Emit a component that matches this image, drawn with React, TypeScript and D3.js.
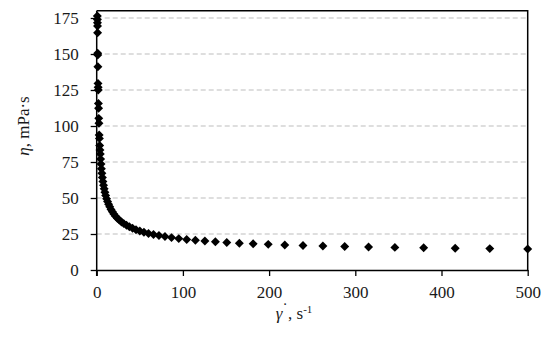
import * as d3 from "d3";
import { useEffect, useRef } from "react";

// shear rate, s-1 (log-spaced measurement points)
const shearRate = [
  0.72, 0.79, 0.87, 0.95, 1.04, 1.15, 1.26, 1.38, 1.51, 1.66, 1.82, 1.99,
  2.18, 2.39, 2.62, 2.88, 3.15, 3.46, 3.79, 4.16, 4.56, 5.0, 5.48, 6.01,
  6.59, 7.22, 7.92, 8.68, 9.52, 10.4, 11.5, 12.6, 13.8, 15.1, 16.6, 18.2,
  19.9, 21.8, 23.9, 26.2, 28.8, 31.5, 34.6, 37.9, 41.6, 45.6, 50.0, 54.8,
  60.1, 65.9, 72.2, 79.2, 86.8, 95.2, 104.4, 114.5, 125.5, 137.7, 150.9,
  165.5, 181.5, 199.0, 218.2, 239.3, 262.4, 287.7, 315.4, 345.9, 379.3,
  415.9, 456.0, 500.0,
];

// viscosity, mPa·s
const viscosity = [
  176.4, 174.0, 171.7, 169.4, 164.8, 150.5, 149.3, 141.2, 129.6, 126.9,
  125.0, 115.7, 112.3, 105.3, 101.9, 93.8, 91.4, 86.5, 83.3, 80.6, 77.0,
  73.6, 70.3, 67.2, 64.3, 61.5, 58.9, 56.4, 54.0, 51.8, 49.5, 47.5, 45.6,
  43.9, 42.1, 40.4, 38.9, 37.4, 36.0, 34.7, 33.4, 32.2, 31.1, 30.0, 29.0,
  28.0, 27.1, 26.2, 25.4, 24.6, 23.9, 23.2, 22.5, 21.8, 21.2, 20.7, 20.1,
  19.6, 19.1, 18.6, 18.2, 17.8, 17.4, 17.0, 16.6, 16.3, 16.0, 15.7, 15.4,
  15.1, 14.85, 14.6,
];

const xTicks = [0, 100, 200, 300, 400, 500];
const yTicks = [0, 25, 50, 75, 100, 125, 150, 175];

const W = 550;
const H = 342;
const FONT = "'Liberation Serif', 'DejaVu Serif', serif";
const FS = "17px";

export default function App() {
  const ref = useRef<SVGSVGElement>(null);

  useEffect(() => {
    if (!ref.current) return;
    const svg = d3.select(ref.current);
    svg.selectAll("*").remove();

    const left = 96.7;
    const right = 527.7;
    const top = 10.8;
    const bottom = 270;

    const x = d3.scaleLinear().domain([0, 500]).range([left, right]);
    const y = d3.scaleLinear().domain([0, 180]).range([bottom, top]);

    // gridlines
    svg
      .append("g")
      .selectAll("line")
      .data(yTicks.filter((t) => t > 0))
      .enter()
      .append("line")
      .attr("x1", left)
      .attr("x2", right)
      .attr("y1", (d) => y(d))
      .attr("y2", (d) => y(d))
      .attr("stroke", "#bdbdbd")
      .attr("stroke-width", 1)
      .attr("stroke-dasharray", "5,3");

    // frame top / right
    svg
      .append("path")
      .attr("d", `M${left},${top}H${right}V${bottom}`)
      .attr("fill", "none")
      .attr("stroke", "#000")
      .attr("stroke-width", 1.5);

    const xAxis = svg
      .append("g")
      .attr("transform", `translate(0,${bottom})`)
      .call(
        d3.axisBottom(x).tickValues(xTicks).tickSize(6).tickPadding(10).tickSizeOuter(0)
      );
    const yAxis = svg
      .append("g")
      .attr("transform", `translate(${left},0)`)
      .call(
        d3.axisLeft(y).tickValues(yTicks).tickSize(6).tickPadding(12).tickSizeOuter(0)
      );
    yAxis.select(".domain").attr("d", `M0,${top}V${bottom + 6}`);

    [xAxis, yAxis].forEach((a) => {
      a.select(".domain").attr("stroke", "#000").attr("stroke-width", 1.5);
      a.selectAll(".tick line").attr("stroke", "#000").attr("stroke-width", 1.3);
      a.selectAll(".tick text")
        .attr("fill", "#1a1a1a")
        .style("font-family", FONT)
        .style("font-size", FS);
    });

    // markers
    const diamond = d3.symbol().type(d3.symbolSquare).size(40);
    svg
      .append("g")
      .selectAll("path")
      .data(shearRate.map((s, i) => ({ s, v: viscosity[i] })))
      .enter()
      .append("path")
      .attr("d", diamond)
      .attr("transform", (d) => `translate(${x(d.s)},${y(d.v)}) rotate(45)`)
      .attr("fill", "#000");

    // y title
    const yt = svg
      .append("text")
      .attr("transform", "translate(29,126) rotate(-90)")
      .attr("text-anchor", "middle")
      .style("font-family", FONT)
      .style("font-size", FS)
      .attr("fill", "#1a1a1a");
    yt.append("tspan").style("font-style", "italic").text("η");
    yt.append("tspan").text(", mPa·s");

    // x title
    const xt = svg
      .append("text")
      .attr("x", 294)
      .attr("y", 319)
      .attr("text-anchor", "middle")
      .style("font-family", FONT)
      .style("font-size", FS)
      .attr("fill", "#1a1a1a");
    xt.append("tspan").style("font-style", "italic").text("γ");
    xt.append("tspan").attr("dy", -5).text("˙");
    xt.append("tspan").attr("dy", 5).text(", s");
    xt.append("tspan").attr("dy", -6).style("font-size", "11px").text("-1");
  }, []);

  return (
    <svg
      ref={ref}
      width={W}
      height={H}
      style={{ position: "absolute", left: 0, top: 0, background: "#fff" }}
    />
  );
}
